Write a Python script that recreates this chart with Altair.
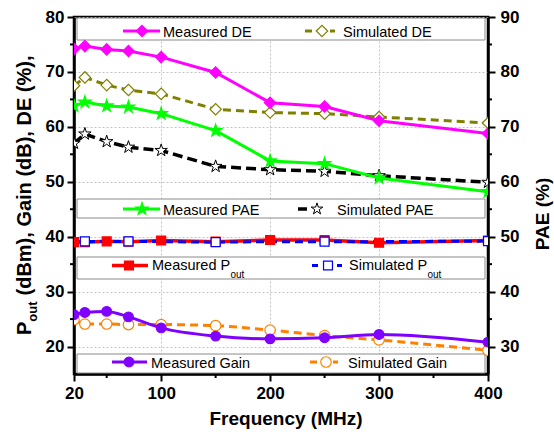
import altair as alt
import pandas as pd

# ---------------- data ----------------
freq = [20, 30, 50, 70, 100, 150, 200, 250, 300, 400]
de_meas = [74.2, 74.7, 74.1, 73.8, 72.7, 69.9, 64.4, 63.7, 61.1, 58.8]
de_sim = [67.5, 69.0, 67.6, 66.7, 66.0, 63.2, 62.6, 62.4, 61.8, 60.7]
pae_meas = [73.8, 74.5, 73.8, 73.6, 72.4, 69.3, 63.8, 63.3, 60.7, 58.2]
pae_sim = [67.0, 68.7, 67.3, 66.3, 65.7, 62.8, 62.2, 61.9, 61.1, 59.9]
pout_meas = [39.0, 39.0, 39.15, 39.1, 39.3, 39.1, 39.4, 39.4, 38.9, 39.3]
pout_sim = [39.1, 39.15, 39.1, 39.15, 39.1, 39.0, 39.1, 39.1, 39.1, 39.2]
gain_meas = [25.8, 26.2, 26.4, 25.4, 23.4, 21.9, 21.4, 21.6, 22.2, 20.8]
gain_sim = [24.9, 24.1, 24.1, 24.0, 24.0, 23.8, 23.0, 22.0, 21.2, 19.3]
pout_sim_marker_freq = [30, 70, 150, 250, 400]

x_ticks = [20, 100, 200, 300, 400]
x_minor = [50, 150, 250, 350]
left_ticks = [20, 30, 40, 50, 60, 70, 80]
left_minor = [25, 35, 45, 55, 65, 75]
right_ticks = [30, 40, 50, 60, 70, 80, 90]
right_minor = [35, 45, 55, 65, 75, 85]

# ---------------- styling ----------------
W, H = 414, 357
FONT = "Liberation Sans"
STAR = ("M0,-1L0.223,-0.307L0.951,-0.309L0.361,0.117L0.588,0.809L0,0.38"
        "L-0.588,0.809L-0.361,0.117L-0.951,-0.309L-0.223,-0.307Z")

axis_common = dict(
    title=None, domainColor="black", domainWidth=2.5, tickColor="black",
    tickWidth=2, tickSize=7, labelFont=FONT, labelFontSize=17,
    labelFontWeight="bold", labelColor="black", labelOverlap=False,
)
x_enc = alt.X(
    "f:Q",
    scale=alt.Scale(domain=[20, 400], nice=False, zero=False),
    axis=alt.Axis(values=x_ticks, grid=True, gridDash=[2, 2], gridColor="#c4c4c4",
                  gridWidth=1, labelFlush=False, labelPadding=4, **axis_common),
)
left_scale = alt.Scale(domain=[15, 80], nice=False, zero=False)
left_axis = alt.Axis(values=left_ticks, orient="left", grid=True, gridDash=[2, 2],
                     gridColor="#c4c4c4", gridWidth=1, labelPadding=3, **axis_common)
right_scale = alt.Scale(domain=[25, 90], nice=False, zero=False)
right_axis = alt.Axis(values=right_ticks, orient="right", grid=False,
                      labelPadding=5, **axis_common)

one = pd.DataFrame({"k": [0]})


def yenc(side):
    if side == "left":
        return alt.Y("v:Q", scale=left_scale, axis=left_axis)
    return alt.Y("v:Q", scale=right_scale, axis=right_axis)


def sdf(vals, fr=None):
    return pd.DataFrame({"f": fr if fr is not None else freq, "v": vals})


def line(vals, color, side="left", dash=None, width=3, interp="linear"):
    kw = dict(color=color, strokeWidth=width, interpolate=interp, clip=True)
    if dash:
        kw["strokeDash"] = dash
    return alt.Chart(sdf(vals)).mark_line(**kw).encode(x=x_enc, y=yenc(side))


def markers(vals, shape, fill, stroke, size, side="left", sw=1.2, only=None):
    df = sdf(vals)
    if only is not None:
        df = df[df["f"].isin(only)]
    return alt.Chart(df).mark_point(
        shape=shape, filled=True, fill=fill, stroke=stroke, strokeWidth=sw,
        size=size, opacity=1, clip=True,
    ).encode(x=x_enc, y=yenc(side))


def txt(x, y, text, size, weight="normal", angle=0, align="left", baseline="alphabetic"):
    return alt.Chart(one).mark_text(
        text=text, font=FONT, fontSize=size, fontWeight=weight, angle=angle,
        align=align, baseline=baseline, color="black",
    ).encode(x=alt.value(x), y=alt.value(y))


def seg(x1, x2, y, color, width=3):
    return alt.Chart(one).mark_rule(color=color, strokeWidth=width).encode(
        x=alt.value(x1), x2=alt.value(x2), y=alt.value(y))


def sym(x, y, shape, fill, stroke, size, sw=1.2):
    return alt.Chart(one).mark_point(
        shape=shape, filled=True, fill=fill, stroke=stroke, strokeWidth=sw,
        size=size, opacity=1,
    ).encode(x=alt.value(x), y=alt.value(y))


def box(y1, y2):
    return alt.Chart(one).mark_rect(fill="white", stroke="#8a8a8a", strokeWidth=1).encode(
        x=alt.value(3), x2=alt.value(411), y=alt.value(y1), y2=alt.value(y2))


# ---------------- colours ----------------
C_DE_M, C_DE_S = "#ff00ff", "#808000"
C_PAE_M, C_PAE_S = "#00ff00", "#000000"
C_PO_M, C_PO_S = "#ff0000", "#0000ff"
C_G_M, C_G_S = "#8000ff", "#ff8000"

# ---------------- legend boxes (beneath data) ----------------
boxes = [box(1, 23), box(182, 201), box(240, 262), box(337, 356)]

# ---------------- minor ticks ----------------
minor_x = alt.Chart(pd.DataFrame({"f": x_minor})).mark_rule(color="black", strokeWidth=2).encode(
    x=x_enc, y=alt.value(H), y2=alt.value(H + 4))
minor_left = alt.Chart(pd.DataFrame({"v": left_minor})).mark_rule(color="black", strokeWidth=2).encode(
    y=yenc("left"), x=alt.value(-4), x2=alt.value(0))
minor_right = alt.Chart(pd.DataFrame({"v": right_minor})).mark_rule(color="black", strokeWidth=2).encode(
    y=yenc("right"), x=alt.value(W), x2=alt.value(W + 4))

# ---------------- data layers ----------------
left_data = [
    line(gain_sim, C_G_S, dash=[8, 5], interp="monotone"),
    markers(gain_sim, "circle", "white", C_G_S, 110),
    line(gain_meas, C_G_M, interp="monotone"),
    markers(gain_meas, "circle", C_G_M, C_G_M, 95),
    line(pout_meas, C_PO_M, width=3.5),
    line(pout_sim, C_PO_S, dash=[8, 5]),
    markers(pout_meas, "square", C_PO_M, C_PO_M, 80),
    markers(pout_sim, "square", "white", C_PO_S, 80, only=pout_sim_marker_freq),
    line(de_sim, C_DE_S, dash=[8, 5]),
    markers(de_sim, "diamond", "white", C_DE_S, 130),
    line(de_meas, C_DE_M),
    markers(de_meas, "diamond", C_DE_M, C_DE_M, 130),
]
right_data = [
    line(pae_sim, C_PAE_S, side="right", dash=[10, 5], width=3.5),
    markers(pae_sim, STAR, "white", C_PAE_S, 170, side="right", sw=1),
    line(pae_meas, C_PAE_M, side="right"),
    markers(pae_meas, STAR, C_PAE_M, C_PAE_M, 170, side="right"),
    minor_right,
]

# ---------------- legend contents ----------------
legend = [
    # row 1
    seg(49, 86, 14, C_DE_M), sym(68, 14, "diamond", C_DE_M, C_DE_M, 130),
    txt(89, 20, "Measured DE", 14.5),
    seg(231, 238, 14, C_DE_S), seg(256, 261, 14, C_DE_S),
    sym(248, 14, "diamond", "white", C_DE_S, 130),
    txt(269, 20, "Simulated DE", 14.5),
    # row 2
    seg(49, 86, 192, C_PAE_M), sym(68, 192, STAR, C_PAE_M, C_PAE_M, 170),
    txt(89, 197.5, "Measured PAE", 14.5),
    seg(224, 233, 192, C_PAE_S, 3.5), sym(243, 192, STAR, "white", C_PAE_S, 150, 1),
    txt(263, 197.5, "Simulated PAE", 14.5),
    # row 3
    seg(38, 74, 248.5, C_PO_M, 3.5), sym(55, 248.5, "square", C_PO_M, C_PO_M, 80),
    txt(78, 253, "Measured P", 14.5), txt(156.5, 260.5, "out", 10),
    seg(238, 244, 248.5, C_PO_S), seg(263, 268, 248.5, C_PO_S),
    sym(254, 248.5, "square", "white", C_PO_S, 80),
    txt(275, 253, "Simulated P", 14.5), txt(353.5, 260.5, "out", 10),
    # row 4
    seg(38, 73, 345, C_G_M), sym(55, 345, "circle", C_G_M, C_G_M, 95),
    txt(77, 351, "Measured Gain", 14.5),
    seg(236, 243, 345, C_G_S), seg(259, 264, 345, C_G_S),
    sym(252, 345, "circle", "white", C_G_S, 110),
    txt(274, 351, "Simulated Gain", 14.5),
    # axis titles
    txt(-43, 318, "P", 20, "bold", angle=270),
    txt(-37, 304.7, "out", 13, "bold", angle=270),
    txt(-43, 278.5, "(dBm), Gain (dB), DE (%),", 20, "bold", angle=270),
    txt(475, 197, "PAE (%)", 19, "bold", angle=270, align="center"),
    txt(212, 408, "Frequency (MHz)", 19, "bold", align="center"),
]

left_group = alt.layer(*boxes, minor_x, minor_left, *left_data, *legend)
right_group = alt.layer(*right_data)

chart = (
    alt.layer(left_group, right_group)
    .resolve_scale(y="independent")
    .properties(
        width=W, height=H, autosize=alt.AutoSizeParams(type="none"),
        padding={"left": 74, "top": 17, "right": 66, "bottom": 58},
        background="white",
    )
    .configure_view(stroke="black", strokeWidth=2.5)
)

chart.save("out.html", embed_options={"renderer": "svg", "actions": False})
